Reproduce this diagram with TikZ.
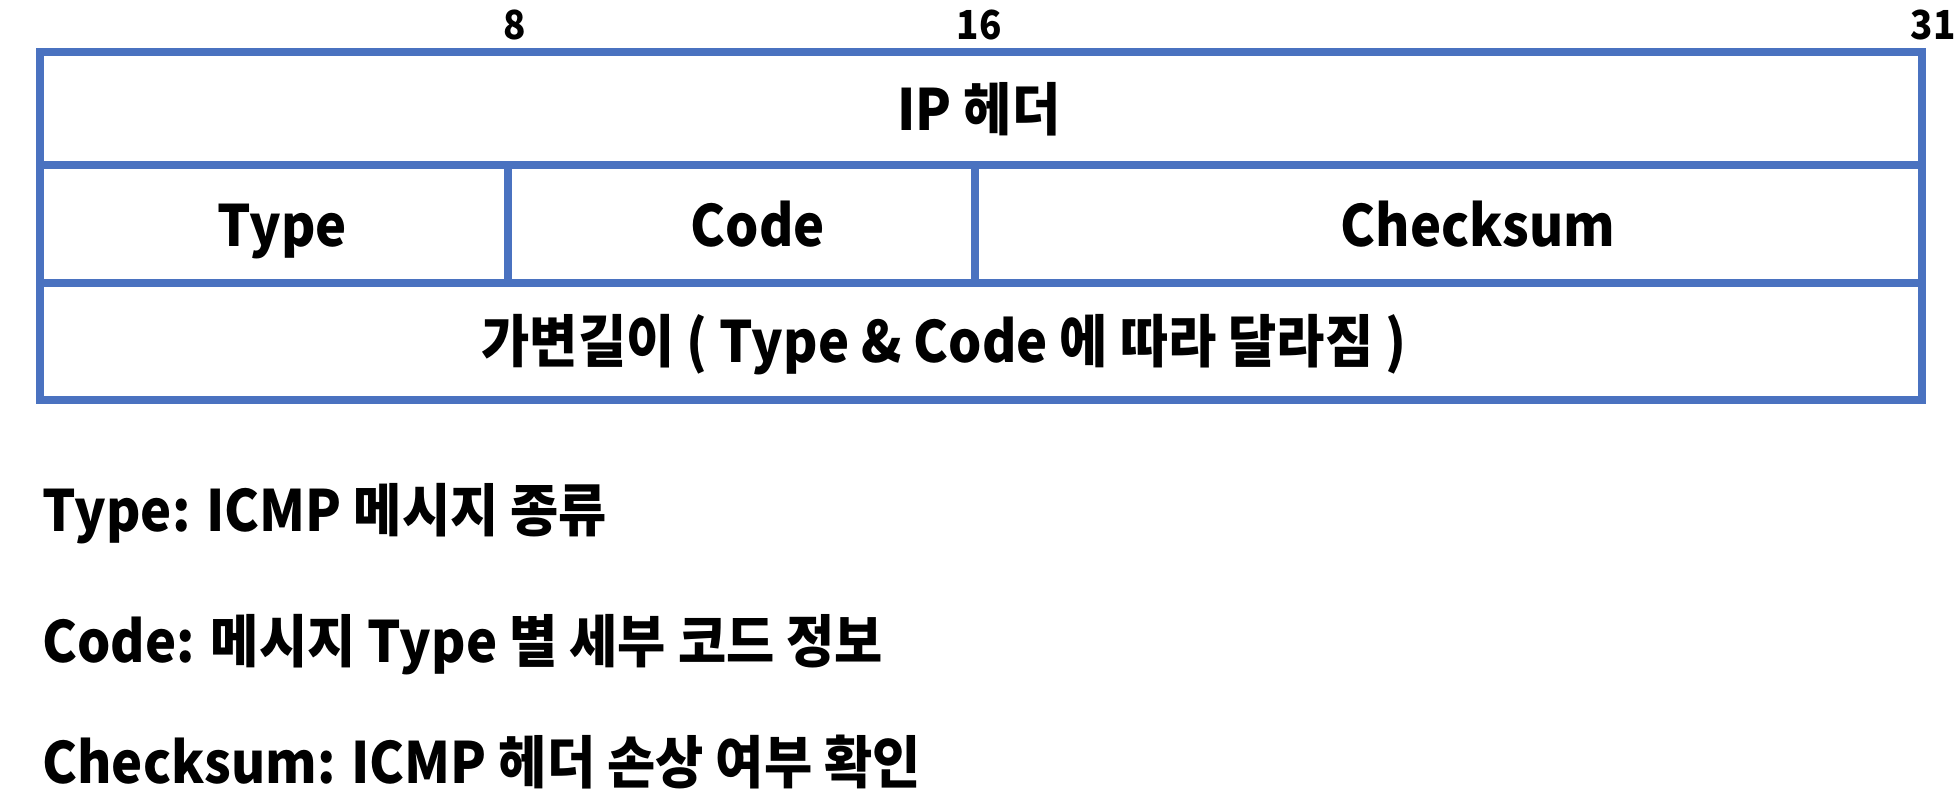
\documentclass[tikz,border=0pt]{standalone}
\usepackage{fontspec}
\setmainfont{Noto Sans CJK KR}[FakeStretch=0.92]
\definecolor{gridblue}{HTML}{4A72C0}
\begin{document}
\begin{tikzpicture}[x=0.5pt,y=-0.5pt,
  grid/.style={draw=gridblue,line width=3.6pt},
  cell/.style={font=\fontsize{28.5}{32}\selectfont\bfseries,anchor=base,inner sep=0pt},
  bit/.style={font=\fontsize{20}{22}\selectfont\bfseries,anchor=base,inner sep=0pt},
  note/.style={font=\fontsize{28.5}{32}\selectfont\bfseries,anchor=base west,inner sep=0pt}]
\useasboundingbox (0,0) rectangle (1956,800);
% grid
\draw[grid] (40,52) rectangle (1922,400);
\draw[grid] (40,165) -- (1922,165);
\draw[grid] (40,283) -- (1922,283);
\draw[grid] (508,165) -- (508,283);
\draw[grid] (975,165) -- (975,283);
% bit labels
\node[bit] (b8) at (515,39) {8};
\node[bit] (b16) at (979,39) {16};
\node[bit] (b31) at (1933,39) {31};
% cells
\node[cell] (ip) at (979,130) {IP 헤더};
\node[cell] (type) at (282,246) {Type};
\node[cell] (code) at (758,246) {Code};
\node[cell] (csum) at (1478,246) {Checksum};
\node[cell] (var) at (944,362) {가변길이 ( Type \& Code 에 따라 달라짐 )};
% notes
\node[note] (n1) at (42,531) {Type: ICMP 메시지 종류};
\node[note] (n2) at (42,662) {Code: 메시지 Type 별 세부 코드 정보};
\node[note] (n3) at (42,783) {Checksum: ICMP 헤더 손상 여부 확인};
\end{tikzpicture}
\end{document}
